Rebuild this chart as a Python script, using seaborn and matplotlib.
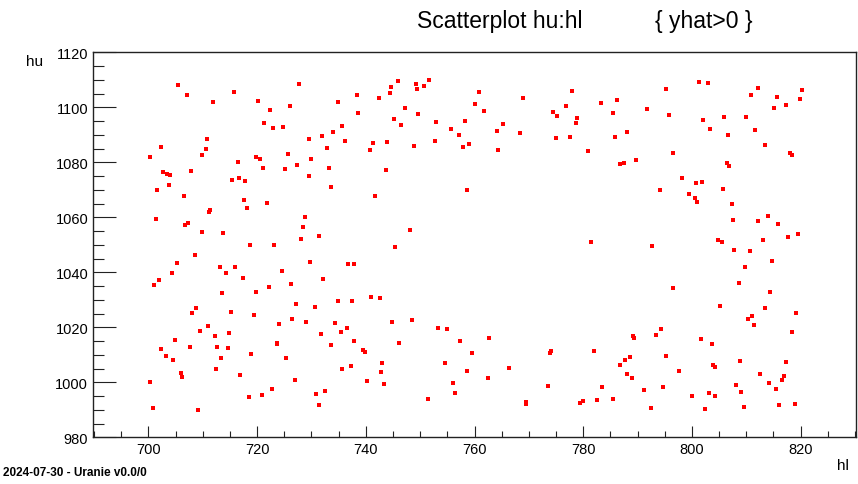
import numpy as np
import pandas as pd
import matplotlib.pyplot as plt
from matplotlib.ticker import MultipleLocator
import seaborn as sns

# values
hl = [
    705.5, 707.1, 715.7, 711.9, 710.8, 702.3, 710.5, 709.9, 700.2, 716.4,
    707.9, 702.7, 703.5, 704.0, 715.3, 716.7, 703.7, 701.6, 706.6, 717.6,
    711.4, 711.2, 701.3, 707.3, 706.7, 709.8, 713.8,
    727.7, 720.2, 744.6, 744.4, 738.4, 742.4, 734.9, 722.4, 726.0, 738.6,
    745.1, 721.3, 723.0, 724.8, 735.7, 731.9, 734.0, 729.5, 736.2, 741.3,
    743.9, 732.8, 740.7, 719.8, 720.6, 725.6, 730.0, 727.4, 721.1, 725.1,
    733.2, 743.8, 729.6, 717.8, 733.6, 741.7, 721.9, 718.1, 728.8, 728.4,
    731.3, 728.0,
    746.0, 749.2, 751.7, 750.7, 749.5, 760.9, 769.0, 760.0, 747.3, 761.8,
    749.6, 746.4, 753.0, 758.3, 755.6, 765.2, 764.1, 757.1, 768.3, 752.8,
    748.9, 759.0, 757.8, 764.4, 758.7, 748.1,
    801.3, 777.9, 795.2, 774.4, 776.9, 783.3, 786.2, 775.2, 778.9, 778.7,
    785.5, 791.7, 795.7, 775.0, 777.6, 788.0, 785.8, 780.8, 796.5, 789.8,
    786.7, 787.5, 798.1, 800.8, 794.1, 799.4, 800.5, 800.9, 781.5,
    802.9, 812.2, 820.3, 810.9, 815.7, 819.8, 817.3, 815.1, 802.0, 805.9,
    809.9, 803.3, 811.7, 806.6, 813.4, 818.1, 818.5, 806.5, 806.9, 801.9,
    805.7, 807.3, 807.6, 814.0, 812.2, 815.9, 819.6, 817.7, 804.8, 805.5,
    813.0,
    708.6, 705.2, 713.1, 716.0, 704.4, 714.3, 717.4, 702.0, 701.1, 713.5,
    708.7, 708.1, 715.2, 711.0, 709.5, 712.2, 714.9, 704.8, 702.3, 707.7,
    712.7, 714.6, 703.3, 704.6, 713.4, 712.4, 705.9, 706.2, 716.8, 700.3,
    700.8, 709.1,
    718.6, 723.1, 745.4, 729.8, 736.8, 737.9, 724.6, 732.2, 726.2, 722.1,
    719.8, 741.0, 742.7, 727.1, 730.6, 734.8, 737.5, 719.4, 726.5, 729.0,
    734.3, 736.6, 744.9, 724.1, 735.4, 731.7, 737.8, 723.7, 723.6, 733.6,
    718.9, 739.5, 739.9, 725.3, 742.9, 735.6, 737.3, 742.8, 727.0, 740.2,
    743.3, 722.7, 732.5, 718.5, 720.9, 730.9, 731.3,
    748.5, 746.1, 753.2, 754.9, 757.4, 762.6, 759.6, 754.6, 758.6, 766.4,
    774.0, 773.8, 762.4, 756.1, 756.4, 773.5, 751.4, 769.5, 769.4,
    792.7, 796.6, 794.3, 793.4, 789.1, 789.4, 781.9, 795.3, 788.7, 787.7,
    786.8, 797.7, 788.1, 788.9, 783.4, 794.6, 791.2, 800.1, 785.4, 782.5,
    780.0, 779.4, 792.5,
    801.6, 807.7, 810.6, 814.8, 809.7, 808.6, 814.3, 805.1, 813.5, 811.1,
    810.3, 819.2, 811.4, 818.4, 803.7, 808.8, 817.4, 803.8, 804.3, 812.6,
    816.9, 814.1, 816.6, 808.1, 815.4, 809.1, 803.1, 804.2, 802.4, 809.5,
    816.1, 818.9,
]
hu = [
    1108.2, 1104.6, 1105.4, 1101.8, 1088.4, 1085.7, 1084.8, 1082.7, 1081.8, 1080.1,
    1076.8, 1076.4, 1075.7, 1075.3, 1073.6, 1074.2, 1071.9, 1069.8, 1067.9, 1066.2,
    1062.5, 1061.8, 1059.3, 1057.9, 1057.1, 1054.7, 1054.4,
    1108.5, 1102.2, 1107.5, 1105.1, 1104.6, 1103.3, 1101.8, 1099.1, 1100.5, 1098.0,
    1095.7, 1094.2, 1092.5, 1092.8, 1093.3, 1089.7, 1090.9, 1088.5, 1087.6, 1087.0,
    1087.3, 1085.1, 1084.4, 1081.8, 1081.1, 1082.9, 1081.3, 1079.1, 1078.0, 1077.4,
    1077.8, 1077.2, 1075.0, 1073.3, 1070.9, 1067.6, 1065.1, 1063.4, 1060.2, 1056.6,
    1053.3, 1052.2,
    1109.6, 1108.5, 1109.8, 1107.9, 1106.5, 1105.7, 1103.5, 1101.1, 1099.6, 1098.5,
    1097.4, 1093.6, 1094.8, 1095.0, 1092.2, 1093.9, 1091.4, 1090.0, 1090.5, 1087.9,
    1085.9, 1086.8, 1085.5, 1084.6, 1070.0, 1055.5,
    1109.2, 1105.9, 1106.8, 1098.3, 1100.5, 1101.6, 1102.7, 1097.0, 1096.1, 1094.4,
    1097.8, 1099.4, 1097.2, 1089.0, 1089.2, 1091.1, 1089.2, 1084.0, 1083.5, 1080.7,
    1079.4, 1079.6, 1074.4, 1072.5, 1070.0, 1068.4, 1067.0, 1065.7, 1051.1,
    1108.7, 1107.0, 1106.2, 1104.4, 1103.7, 1102.9, 1100.7, 1099.6, 1095.3, 1096.4,
    1096.6, 1092.2, 1091.7, 1090.0, 1086.2, 1083.5, 1082.7, 1079.9, 1078.5, 1072.7,
    1070.3, 1064.8, 1059.0, 1060.5, 1058.5, 1057.4, 1053.8, 1053.0, 1051.9, 1051.1,
    1051.6,
    1046.4, 1043.4, 1042.0, 1041.8, 1039.6, 1039.6, 1037.9, 1037.2, 1035.5, 1032.5,
    1027.0, 1025.1, 1025.6, 1020.5, 1018.8, 1016.8, 1017.9, 1015.5, 1012.1, 1012.7,
    1013.0, 1012.5, 1009.7, 1008.0, 1008.7, 1004.7, 1003.5, 1002.0, 1002.5, 1000.1,
    990.8, 990.1,
    1050.0, 1050.0, 1049.2, 1043.6, 1043.0, 1042.9, 1040.3, 1037.7, 1035.6, 1034.7,
    1032.7, 1031.1, 1030.5, 1028.4, 1027.5, 1029.4, 1029.4, 1024.5, 1023.1, 1022.0,
    1021.4, 1019.9, 1021.8, 1021.2, 1018.4, 1017.7, 1014.9, 1014.3, 1014.1, 1013.6,
    1010.2, 1011.9, 1011.0, 1008.8, 1007.0, 1004.7, 1005.8, 1003.7, 1000.8, 1000.4,
    999.3, 997.6, 996.8, 994.5, 995.4, 995.6, 991.6,
    1022.7, 1014.3, 1019.6, 1019.3, 1015.1, 1016.2, 1010.8, 1007.0, 1004.2, 1005.1,
    1011.5, 1010.5, 1001.4, 999.6, 996.2, 998.7, 993.8, 992.9, 992.1,
    1049.7, 1034.4, 1019.5, 1017.3, 1016.8, 1016.0, 1011.3, 1009.7, 1009.1, 1008.0,
    1006.2, 1004.2, 1003.1, 1001.4, 998.2, 998.2, 997.1, 994.9, 994.0, 993.6,
    993.2, 992.6, 990.8,
    1015.8, 1048.1, 1047.6, 1044.0, 1042.1, 1036.2, 1032.7, 1027.7, 1027.0, 1024.2,
    1023.1, 1025.3, 1021.0, 1018.2, 1013.8, 1007.7, 1007.5, 1006.4, 1005.6, 1002.9,
    1002.3, 999.9, 1001.0, 998.9, 997.6, 996.5, 996.0, 994.9, 990.3, 991.0,
    991.6, 992.1,
]
df = pd.DataFrame({'hl': hl, 'hu': hu})

sns.set_style("white")
plt.rcParams['font.family'] = ['Liberation Sans', 'DejaVu Sans']
plt.rcParams['text.color'] = 'black'

fig = plt.figure(figsize=(8.58, 4.85), dpi=100)
ax = fig.add_axes([0.1084, 0.0963, 0.8893, 0.7937])

sns.scatterplot(data=df, x='hl', y='hu', ax=ax, marker='s', s=5.5,
                color='#ff0000', linewidth=0, legend=False)

ax.set_xlim(689.8, 830.2)
ax.set_ylim(980, 1120)

ax.xaxis.set_major_locator(MultipleLocator(20))
ax.xaxis.set_minor_locator(MultipleLocator(5))
ax.yaxis.set_major_locator(MultipleLocator(20))
ax.yaxis.set_minor_locator(MultipleLocator(5))

ax.tick_params(axis='both', which='both', direction='in', bottom=True, left=True,
               top=False, right=False, width=0.8, color='#222222',
               labelcolor='black', labelsize=10.5, pad=3.5)
ax.tick_params(axis='y', which='major', length=16.5)
ax.tick_params(axis='y', which='minor', length=8)
ax.tick_params(axis='x', which='major', length=8)
ax.tick_params(axis='x', which='minor', length=4.3)

for side in ax.spines.values():
    side.set_color('#222222')
    side.set_linewidth(1.0)

ax.set_xlabel(None)
ax.set_ylabel(None)
fig.text(0.9895, 0.039, 'hl', ha='right', va='center', fontsize=11)
fig.text(0.030, 0.872, 'hu', ha='left', va='center', fontsize=11)

fig.text(0.4865, 0.955, 'Scatterplot hu:hl', ha='left', va='center', fontsize=16.5)
fig.text(0.763, 0.955, '{ yhat>0 }', ha='left', va='center', fontsize=16.5)
fig.text(0.003, 0.013, '2024-07-30 - Uranie v0.0/0', ha='left', va='bottom',
         fontsize=8.5, fontweight='bold')

fig.savefig('out.png', dpi=100)
